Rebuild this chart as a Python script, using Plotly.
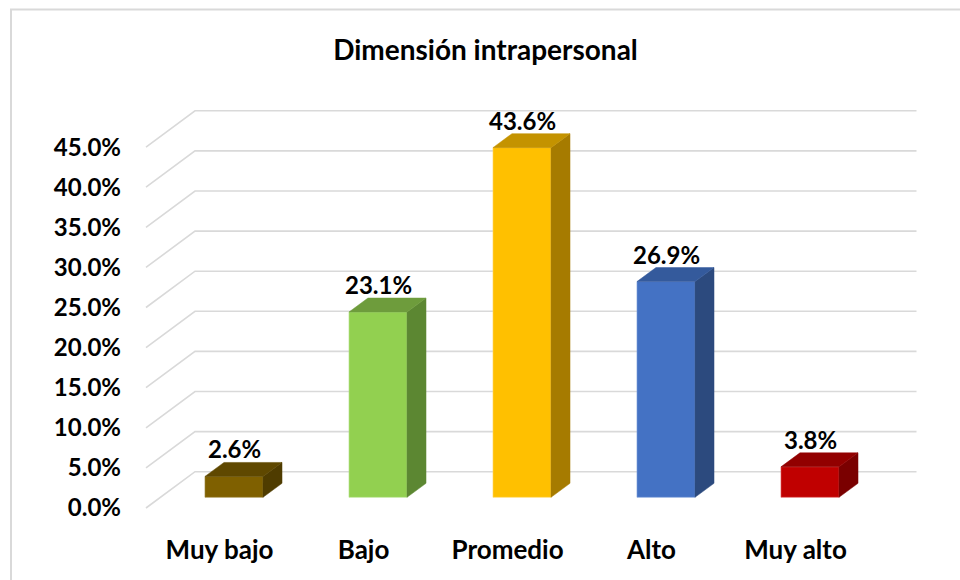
import plotly.graph_objects as go

# data
categories = ["Muy bajo", "Bajo", "Promedio", "Alto", "Muy alto"]
values = [2.6, 23.1, 43.6, 26.9, 3.8]
tick_values = [0, 5, 10, 15, 20, 25, 30, 35, 40, 45]
tick_labels = ["0.0%", "5.0%", "10.0%", "15.0%", "20.0%", "25.0%",
               "30.0%", "35.0%", "40.0%", "45.0%"]

front_colors = ["#7F6000", "#92D050", "#FFC000", "#4472C4", "#C00000"]
top_colors = ["#5F4800", "#6E9C3C", "#C49300", "#345A9C", "#920000"]
side_colors = ["#4F3C00", "#5C8732", "#A67B00", "#2C4A7E", "#7A0000"]
edge_colors = ["#A08A40", "#B6E08C", "#FFD766", "#7FA0DC", "#E06060"]

FONT = "Lato"
W, H = 960, 580
L, R, T, B = 124, 30, 90, 50
X0_PX, X_UNIT = 234, 144.0   # pixel of category 0, pixels per category
Y0_PX, Y_UNIT = 497.3, 8.02  # pixel of 0 %, pixels per percent

# 3D offsets (in data units)
BAR_W = 0.403
bar_dx, bar_dy = 19 / X_UNIT, 14 / Y_UNIT
front_dy = (Y0_PX - 508) / Y_UNIT
back_dy = (Y0_PX - 471.7) / Y_UNIT
x_front = (146 - X0_PX) / X_UNIT
x_back = (195 - X0_PX) / X_UNIT
x_right = (916.5 - X0_PX) / X_UNIT
cat_shift = (x_back - x_front) * (front_dy / (back_dy - front_dy))

xr = [(L - X0_PX) / X_UNIT, (W - R - X0_PX) / X_UNIT]
yr = [(Y0_PX - (H - B)) / Y_UNIT, (Y0_PX - T) / Y_UNIT]

fig = go.Figure()

# front faces
fig.add_trace(go.Bar(
    x=list(range(len(categories))), y=values, width=BAR_W,
    marker=dict(color=front_colors, line=dict(color=edge_colors, width=0.6)),
    hoverinfo="skip", showlegend=False,
))

# side and top faces
for i, v in enumerate(values):
    xl, xrt = i - BAR_W / 2, i + BAR_W / 2
    fig.add_trace(go.Scatter(
        x=[xrt, xrt + bar_dx, xrt + bar_dx, xrt, xrt],
        y=[0, bar_dy, v + bar_dy, v, 0],
        fill="toself", fillcolor=side_colors[i], mode="lines",
        line=dict(color=side_colors[i], width=0.5),
        hoverinfo="skip", showlegend=False,
    ))
    fig.add_trace(go.Scatter(
        x=[xl, xrt, xrt + bar_dx, xl + bar_dx, xl],
        y=[v, v, v + bar_dy, v + bar_dy, v],
        fill="toself", fillcolor=top_colors[i], mode="lines",
        line=dict(color=top_colors[i], width=0.5),
        hoverinfo="skip", showlegend=False,
    ))
    fig.add_annotation(
        x=i, y=v + bar_dy, text=f"{v:.1f}%", showarrow=False,
        yanchor="bottom", yshift=-3,
        font=dict(family=FONT, size=24, color="#000000", weight="bold"),
    )

# floor / wall gridlines
for v in tick_values:
    fig.add_shape(
        type="path", layer="below", xref="x", yref="y",
        path=(f"M {x_front},{v + front_dy} L {x_back},{v + back_dy} "
              f"L {x_right},{v + back_dy}"),
        line=dict(color="#D9D9D9", width=1.6),
    )

# chart border
pw, ph = W - L - R, H - T - B
fig.add_shape(
    type="path", xref="paper", yref="paper", layer="below",
    path=(f"M {(11 - L) / pw},-0.3 L {(11 - L) / pw},{(H - B - 9.5) / ph} "
          f"L 1.2,{(H - B - 9.5) / ph}"),
    line=dict(color="#D9D9D9", width=2),
)

fig.update_layout(
    width=W, height=H,
    margin=dict(l=L, r=R, t=T, b=B),
    plot_bgcolor="white", paper_bgcolor="white",
    title=dict(
        text="Dimensión intrapersonal", xref="container", yref="container",
        x=485.5 / W, y=1 - 50 / H, xanchor="center", yanchor="middle",
        font=dict(family=FONT, size=28, color="#000000", weight="bold"),
    ),
    xaxis=dict(
        range=xr, showgrid=False, zeroline=False, showline=False,
        tickvals=[i + cat_shift for i in range(len(categories))],
        ticktext=categories, ticks="", ticklabelstandoff=2,
        tickfont=dict(family=FONT, size=26, color="#000000", weight="bold"),
        fixedrange=True,
    ),
    yaxis=dict(
        range=yr, showgrid=False, zeroline=False, showline=False,
        tickvals=[v + front_dy for v in tick_values], ticktext=tick_labels,
        ticks="", ticklabelstandoff=2,
        tickfont=dict(family=FONT, size=24, color="#000000", weight="bold"),
        fixedrange=True,
    ),
)

fig.write_html("out.html", config={"displayModeBar": False},
               post_script="document.body.style.margin='0';")
